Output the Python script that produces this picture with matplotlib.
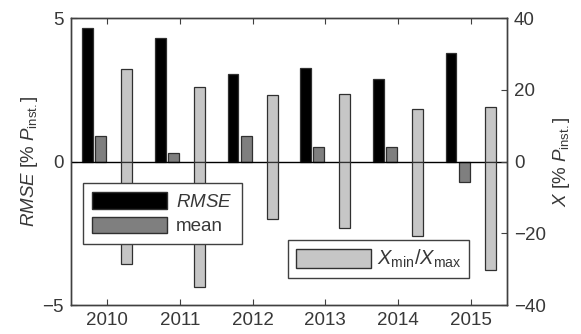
import numpy as np
import matplotlib
matplotlib.use("Agg")
import matplotlib.pyplot as plt
from matplotlib.patches import Patch

plt.rcParams["font.family"] = ["Liberation Sans", "DejaVu Sans"]
plt.rcParams["mathtext.fontset"] = "custom"
plt.rcParams["mathtext.rm"] = "Liberation Sans"
plt.rcParams["mathtext.it"] = "Liberation Sans:italic"
plt.rcParams["font.size"] = 13.5

years = [2010, 2011, 2012, 2013, 2014, 2015]
rmse = [4.65, 4.31, 3.04, 3.27, 2.86, 3.77]
mean = [0.89, 0.29, 0.89, 0.50, 0.50, -0.70]
x_max = [25.7, 20.8, 18.5, 18.7, 14.5, 15.1]
x_min = [-28.5, -34.9, -16.0, -18.6, -20.8, -30.2]

edge = "#303030"
c_rmse = "black"
c_mean = "#7f7f7f"
c_x = "#c6c6c6"
c_text = "#383838"

fig = plt.figure(figsize=(5.81, 3.34), dpi=100)
ax1 = fig.add_axes([0.1222, 0.0868, 0.7504, 0.8593])
ax2 = ax1.twinx()

pos = np.array(years, dtype=float)
w = 0.15

ax1.bar(pos - 0.27, rmse, w, color=c_rmse, edgecolor=edge, linewidth=0.9, zorder=2)
ax1.bar(pos - 0.09, mean, w, color=c_mean, edgecolor=edge, linewidth=0.9, zorder=2)
ax1.axhline(0, color="black", linewidth=1.0, zorder=3)

ax2.bar(pos + 0.27, x_max, w, color=c_x, edgecolor=edge, linewidth=0.9)
ax2.bar(pos + 0.27, x_min, w, color=c_x, edgecolor=edge, linewidth=0.9)

ax1.set_xlim(2009.5, 2015.5)
ax1.set_ylim(-5, 5)
ax2.set_ylim(-40, 40)
ax1.set_xticks(years)
ax1.set_yticks([-5, 0, 5])
ax2.set_yticks([-40, -20, 0, 20, 40])

for ax in (ax1, ax2):
    for s in ax.spines.values():
        s.set_color("#404040")
        s.set_linewidth(1.0)
    ax.tick_params(direction="in", length=4, width=0.8, color="#404040",
                   labelcolor=c_text, pad=5)
ax1.tick_params(axis="x", top=True)

ax1.set_ylabel(r"$\mathit{RMSE}$ [% $\mathit{P}_{\mathrm{inst.}}$]", color=c_text, labelpad=2)
ax2.set_ylabel(r"$\mathit{X}$ [% $\mathit{P}_{\mathrm{inst.}}$]", color=c_text, labelpad=4)

h1 = [Patch(facecolor=c_rmse, edgecolor=edge, label=r"$\mathit{RMSE}$"),
      Patch(facecolor=c_mean, edgecolor=edge, label="mean")]
h2 = [Patch(facecolor=c_x, edgecolor=edge, label=r"$\mathit{X}_{\mathrm{min}}/\mathit{X}_{\mathrm{max}}$")]

leg1 = ax2.legend(handles=h1, loc="upper left", bbox_to_anchor=(83 / 581, 1 - 183 / 334),
                  bbox_transform=fig.transFigure, fancybox=False, edgecolor="#404040",
                  framealpha=1, handlelength=4.0, handleheight=0.95, borderpad=0.5,
                  labelspacing=0.3, handletextpad=0.45, borderaxespad=0)
leg1.get_frame().set_linewidth(1.0)
for t in leg1.get_texts():
    t.set_color(c_text)
ax2.add_artist(leg1)

leg2 = ax2.legend(handles=h2, loc="upper left", bbox_to_anchor=(288 / 581, 1 - 240 / 334),
                  bbox_transform=fig.transFigure, fancybox=False, edgecolor="#404040",
                  framealpha=1, handlelength=3.7, handleheight=1.1, borderpad=0.4,
                  handletextpad=0.3, borderaxespad=0, prop={"size": 14.5})
leg2.get_frame().set_linewidth(1.0)
for t in leg2.get_texts():
    t.set_color(c_text)

fig.savefig("out.png", dpi=100)
